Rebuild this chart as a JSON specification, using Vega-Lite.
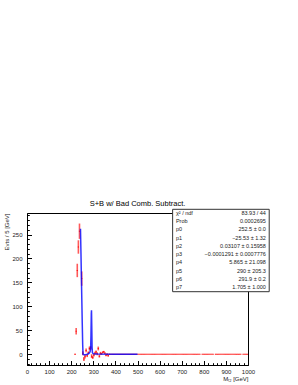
{
  "$schema": "https://vega.github.io/schema/vega-lite/v6.json",
  "autosize": "none",
  "width": 221,
  "height": 152,
  "padding": {"left": 27, "top": 213, "right": 50, "bottom": 20},
  "background": "white",
  "config": {
    "font": "Liberation Sans",
    "view": {"stroke": "black", "strokeWidth": 1},
    "axis": {"grid": false, "domainColor": "black", "tickColor": "black", "labelColor": "#222", "labelFontSize": 6, "titleFontSize": 6, "titleFontWeight": "normal", "titleColor": "#222", "labelOverlap": false, "labelFlush": false, "labelBound": false}
  },
  "title": {"text": "S+B w/ Bad Comb. Subtract.", "fontSize": 7.5, "fontWeight": "normal", "anchor": "middle", "offset": 1.5, "color": "black"},
  "datasets": {
    "pts": [
      {"m": 217.5, "v": 0, "lo": -1, "hi": 1},
      {"m": 222.5, "v": 48, "lo": 41, "hi": 55},
      {"m": 227.5, "v": 175, "lo": 161, "hi": 189},
      {"m": 232.5, "v": 224, "lo": 210, "hi": 238},
      {"m": 237.5, "v": 257, "lo": 241, "hi": 273},
      {"m": 247.5, "v": 158, "lo": 143, "hi": 173},
      {"m": 252.5, "v": 2, "lo": -2, "hi": 6},
      {"m": 257.5, "v": -10, "lo": -14, "hi": -6},
      {"m": 262.5, "v": -5, "lo": -9, "hi": -1},
      {"m": 267.5, "v": 8, "lo": 4, "hi": 12},
      {"m": 272.5, "v": -3, "lo": -6, "hi": 0},
      {"m": 277.5, "v": 3, "lo": 0, "hi": 6},
      {"m": 282.5, "v": 12, "lo": 8, "hi": 16},
      {"m": 287.5, "v": 13, "lo": 9, "hi": 17},
      {"m": 292.5, "v": -4, "lo": -8, "hi": 0},
      {"m": 297.5, "v": -7, "lo": -10, "hi": -4},
      {"m": 302.5, "v": -2, "lo": -5, "hi": 1},
      {"m": 307.5, "v": 2, "lo": -1, "hi": 5},
      {"m": 312.5, "v": 5, "lo": 2, "hi": 8},
      {"m": 317.5, "v": 1, "lo": -2, "hi": 4},
      {"m": 322.5, "v": 12, "lo": 8, "hi": 16},
      {"m": 327.5, "v": -4, "lo": -7, "hi": -1},
      {"m": 332.5, "v": 2, "lo": -1, "hi": 5},
      {"m": 337.5, "v": 1, "lo": -1, "hi": 3},
      {"m": 342.5, "v": 4, "lo": 2, "hi": 6},
      {"m": 347.5, "v": 5, "lo": 3, "hi": 7},
      {"m": 352.5, "v": 2, "lo": 0, "hi": 4},
      {"m": 357.5, "v": -2, "lo": -4, "hi": 0},
      {"m": 362.5, "v": 0, "lo": -2, "hi": 2},
      {"m": 367.5, "v": -3, "lo": -5, "hi": -1},
      {"m": 372.5, "v": 0, "lo": -1, "hi": 1},
      {"m": 377.5, "v": 0, "lo": 0, "hi": 0}, {"m": 382.5, "v": 0, "lo": 0, "hi": 0}, {"m": 387.5, "v": 0, "lo": 0, "hi": 0}, {"m": 392.5, "v": 0, "lo": 0, "hi": 0}, {"m": 397.5, "v": 0, "lo": 0, "hi": 0},
      {"m": 402.5, "v": 0, "lo": 0, "hi": 0}, {"m": 407.5, "v": 0, "lo": 0, "hi": 0}, {"m": 412.5, "v": 0, "lo": 0, "hi": 0}, {"m": 417.5, "v": 0, "lo": 0, "hi": 0}, {"m": 422.5, "v": 0, "lo": 0, "hi": 0},
      {"m": 427.5, "v": 0, "lo": 0, "hi": 0}, {"m": 432.5, "v": 0, "lo": 0, "hi": 0}, {"m": 437.5, "v": 0, "lo": 0, "hi": 0}, {"m": 442.5, "v": 0, "lo": 0, "hi": 0}, {"m": 447.5, "v": 0, "lo": 0, "hi": 0},
      {"m": 452.5, "v": 0, "lo": 0, "hi": 0}, {"m": 457.5, "v": 0, "lo": 0, "hi": 0}, {"m": 462.5, "v": 0, "lo": 0, "hi": 0}, {"m": 467.5, "v": 0, "lo": 0, "hi": 0}, {"m": 472.5, "v": 0, "lo": 0, "hi": 0},
      {"m": 477.5, "v": 0, "lo": 0, "hi": 0}, {"m": 482.5, "v": 0, "lo": 0, "hi": 0}, {"m": 487.5, "v": 0, "lo": 0, "hi": 0}, {"m": 492.5, "v": 0, "lo": 0, "hi": 0}, {"m": 497.5, "v": 0, "lo": 0, "hi": 0},
      {"m": 502.5, "v": 0, "lo": 0, "hi": 0}, {"m": 507.5, "v": 0, "lo": 0, "hi": 0}, {"m": 512.5, "v": 0, "lo": 0, "hi": 0}, {"m": 517.5, "v": 0, "lo": 0, "hi": 0}, {"m": 522.5, "v": 0, "lo": 0, "hi": 0},
      {"m": 527.5, "v": 0, "lo": 0, "hi": 0}, {"m": 532.5, "v": 0, "lo": 0, "hi": 0}, {"m": 537.5, "v": 0, "lo": 0, "hi": 0}, {"m": 542.5, "v": 0, "lo": 0, "hi": 0}, {"m": 547.5, "v": 0, "lo": 0, "hi": 0},
      {"m": 552.5, "v": 0, "lo": 0, "hi": 0}, {"m": 557.5, "v": 0, "lo": 0, "hi": 0}, {"m": 562.5, "v": 0, "lo": 0, "hi": 0}, {"m": 567.5, "v": 0, "lo": 0, "hi": 0}, {"m": 572.5, "v": 0, "lo": 0, "hi": 0},
      {"m": 577.5, "v": 0, "lo": 0, "hi": 0}, {"m": 582.5, "v": 0, "lo": 0, "hi": 0}, {"m": 587.5, "v": 0, "lo": 0, "hi": 0}, {"m": 592.5, "v": 0, "lo": 0, "hi": 0}, {"m": 597.5, "v": 0, "lo": 0, "hi": 0},
      {"m": 602.5, "v": 0, "lo": 0, "hi": 0}, {"m": 607.5, "v": 0, "lo": 0, "hi": 0}, {"m": 612.5, "v": 0, "lo": 0, "hi": 0}, {"m": 617.5, "v": 0, "lo": 0, "hi": 0}, {"m": 622.5, "v": 0, "lo": 0, "hi": 0},
      {"m": 627.5, "v": 0, "lo": 0, "hi": 0}, {"m": 632.5, "v": 0, "lo": 0, "hi": 0}, {"m": 637.5, "v": 0, "lo": 0, "hi": 0}, {"m": 642.5, "v": 0, "lo": 0, "hi": 0}, {"m": 647.5, "v": 0, "lo": 0, "hi": 0},
      {"m": 652.5, "v": 0, "lo": 0, "hi": 0}, {"m": 657.5, "v": 0, "lo": 0, "hi": 0}, {"m": 662.5, "v": 0, "lo": 0, "hi": 0}, {"m": 667.5, "v": 0, "lo": 0, "hi": 0}, {"m": 672.5, "v": 0, "lo": 0, "hi": 0},
      {"m": 677.5, "v": 0, "lo": 0, "hi": 0}, {"m": 682.5, "v": 0, "lo": 0, "hi": 0}, {"m": 687.5, "v": 0, "lo": 0, "hi": 0}, {"m": 692.5, "v": 0, "lo": 0, "hi": 0}, {"m": 697.5, "v": 0, "lo": 0, "hi": 0},
      {"m": 702.5, "v": 0, "lo": 0, "hi": 0}, {"m": 707.5, "v": 0, "lo": 0, "hi": 0}, {"m": 712.5, "v": 0, "lo": 0, "hi": 0}, {"m": 717.5, "v": 0, "lo": 0, "hi": 0}, {"m": 722.5, "v": 0, "lo": 0, "hi": 0},
      {"m": 727.5, "v": 0, "lo": 0, "hi": 0}, {"m": 732.5, "v": 0, "lo": 0, "hi": 0}, {"m": 737.5, "v": 0, "lo": 0, "hi": 0}, {"m": 742.5, "v": 0, "lo": 0, "hi": 0}, {"m": 747.5, "v": 0, "lo": 0, "hi": 0},
      {"m": 752.5, "v": 0, "lo": 0, "hi": 0}, {"m": 757.5, "v": 0, "lo": 0, "hi": 0}, {"m": 762.5, "v": 0, "lo": 0, "hi": 0}, {"m": 767.5, "v": 0, "lo": 0, "hi": 0}, {"m": 772.5, "v": 0, "lo": 0, "hi": 0},
      {"m": 777.5, "v": 0, "lo": 0, "hi": 0}, {"m": 782.5, "v": 0, "lo": 0, "hi": 0}, {"m": 792.5, "v": 0, "lo": 0, "hi": 0}, {"m": 797.5, "v": 0, "lo": 0, "hi": 0},
      {"m": 802.5, "v": 0, "lo": 0, "hi": 0}, {"m": 807.5, "v": 0, "lo": 0, "hi": 0}, {"m": 812.5, "v": 0, "lo": 0, "hi": 0}, {"m": 817.5, "v": 0, "lo": 0, "hi": 0}, {"m": 822.5, "v": 0, "lo": 0, "hi": 0},
      {"m": 827.5, "v": 0, "lo": 0, "hi": 0}, {"m": 832.5, "v": 0, "lo": 0, "hi": 0}, {"m": 837.5, "v": 0, "lo": 0, "hi": 0}, {"m": 842.5, "v": 0, "lo": 0, "hi": 0}, {"m": 852.5, "v": 0, "lo": 0, "hi": 0},
      {"m": 857.5, "v": 0, "lo": 0, "hi": 0}, {"m": 862.5, "v": 0, "lo": 0, "hi": 0}, {"m": 867.5, "v": 0, "lo": 0, "hi": 0}, {"m": 872.5, "v": 0, "lo": 0, "hi": 0}, {"m": 877.5, "v": 0, "lo": 0, "hi": 0},
      {"m": 882.5, "v": 0, "lo": 0, "hi": 0}, {"m": 887.5, "v": 0, "lo": 0, "hi": 0}, {"m": 892.5, "v": 0, "lo": 0, "hi": 0}, {"m": 897.5, "v": 0, "lo": 0, "hi": 0},
      {"m": 902.5, "v": 0, "lo": 0, "hi": 0}, {"m": 907.5, "v": 0, "lo": 0, "hi": 0}, {"m": 912.5, "v": 0, "lo": 0, "hi": 0}, {"m": 917.5, "v": 0, "lo": 0, "hi": 0}, {"m": 922.5, "v": 0, "lo": 0, "hi": 0},
      {"m": 927.5, "v": 0, "lo": 0, "hi": 0}, {"m": 932.5, "v": 0, "lo": 0, "hi": 0}, {"m": 937.5, "v": 0, "lo": 0, "hi": 0}, {"m": 942.5, "v": 0, "lo": 0, "hi": 0}, {"m": 947.5, "v": 0, "lo": 0, "hi": 0},
      {"m": 952.5, "v": 0, "lo": 0, "hi": 0}, {"m": 957.5, "v": 0, "lo": 0, "hi": 0}, {"m": 962.5, "v": 0, "lo": 0, "hi": 0}, {"m": 967.5, "v": 0, "lo": 0, "hi": 0}, {"m": 977.5, "v": 0, "lo": 0, "hi": 0},
      {"m": 982.5, "v": 0, "lo": 0, "hi": 0}, {"m": 987.5, "v": 0, "lo": 0, "hi": 0}, {"m": 992.5, "v": 0, "lo": 0, "hi": 0}, {"m": 997.5, "v": 0, "lo": 0, "hi": 0}
    ],
    "fit": [
      {"m": 242, "f": 262}, {"m": 244, "f": 215}, {"m": 246, "f": 165}, {"m": 248, "f": 115}, {"m": 250, "f": 65}, {"m": 252, "f": 20}, {"m": 253.5, "f": 0},
      {"m": 258, "f": -1}, {"m": 265, "f": -1}, {"m": 272, "f": 0}, {"m": 278, "f": 1}, {"m": 283, "f": 3}, {"m": 286, "f": 6}, {"m": 288, "f": 12},
      {"m": 289.5, "f": 40}, {"m": 291, "f": 85}, {"m": 291.9, "f": 92}, {"m": 293, "f": 60}, {"m": 294.5, "f": 15}, {"m": 296, "f": 3},
      {"m": 300, "f": 1}, {"m": 320, "f": 0.5}, {"m": 400, "f": 0}, {"m": 500, "f": 0}
    ],
    "stats": [
      {"i": 0, "k": "χ² / ndf", "s": "83.93 / 44"},
      {"i": 1, "k": "Prob", "s": "0.0002695"},
      {"i": 2, "k": "p0", "s": "252.5 ± 0.0"},
      {"i": 3, "k": "p1", "s": "−25.53 ± 1.32"},
      {"i": 4, "k": "p2", "s": "0.03107 ± 0.15958"},
      {"i": 5, "k": "p3", "s": "−0.0001291 ± 0.0007776"},
      {"i": 6, "k": "p4", "s": "5.865 ± 21.098"},
      {"i": 7, "k": "p5", "s": "290 ± 205.3"},
      {"i": 8, "k": "p6", "s": "291.9 ± 0.2"},
      {"i": 9, "k": "p7", "s": "1.705 ± 1.000"}
    ],
    "box": [{"b": 1}]
  },
  "layer": [
    {
      "layer": [
        {
          "data": {"name": "pts"},
          "mark": {"type": "rule", "color": "#ff0000", "strokeWidth": 1.6, "opacity": 0.65, "clip": true},
          "encoding": {
            "x": {"field": "m", "type": "quantitative", "scale": {"domain": [0, 1000], "nice": false, "zero": false},
              "axis": {"orient": "bottom", "values": [0,100,200,300,400,500,600,700,800,900,1000], "format": "d",
                "tickSize": -4.5, "labelPadding": 7.5, "title": "Mₜ₂ [GeV]", "titleAnchor": "end", "titlePadding": 1}},
            "y": {"field": "lo", "type": "quantitative", "scale": {"domain": [-22.5, 295], "nice": false, "zero": false},
              "axis": {"orient": "left", "values": [0,50,100,150,200,250],
                "tickSize": -4.5, "labelPadding": 9.5, "title": "Evts / 5 [GeV]", "titleAnchor": "end", "titlePadding": 2}},
            "y2": {"field": "hi"}
          }
        },
        {
          "data": {"name": "pts"},
          "mark": {"type": "tick", "orient": "horizontal", "color": "#ff0000", "size": 1.2, "thickness": 1, "opacity": 0.9, "clip": true},
          "encoding": {
            "x": {"field": "m", "type": "quantitative",
              "axis": {"orient": "bottom", "values": [20,40,60,80,120,140,160,180,220,240,260,280,320,340,360,380,420,440,460,480,520,540,560,580,620,640,660,680,720,740,760,780,820,840,860,880,920,940,960,980],
                "tickSize": -2.3, "labels": false, "domain": false, "title": null}},
            "y": {"field": "v", "type": "quantitative",
              "axis": {"orient": "left", "values": [-20,-10,10,20,30,40,60,70,80,90,110,120,130,140,160,170,180,190,210,220,230,240,260,270,280,290],
                "tickSize": -2.3, "labels": false, "domain": false, "title": null}}
          }
        },
        {
          "data": {"name": "fit"},
          "mark": {"type": "line", "color": "#0000ff", "strokeWidth": 1.5, "opacity": 0.8, "clip": true},
          "encoding": {
            "x": {"field": "m", "type": "quantitative", "axis": null},
            "y": {"field": "f", "type": "quantitative", "axis": null}
          }
        }
      ],
      "resolve": {"axis": {"x": "independent", "y": "independent"}}
    },
    {
      "layer": [
        {
          "data": {"name": "box"},
          "mark": {"type": "rect", "fill": "white", "stroke": "#333", "strokeWidth": 1},
          "encoding": {
            "x": {"datum": 659, "type": "quantitative", "axis": null},
            "x2": {"datum": 1096},
            "y": {"datum": -0.424, "type": "quantitative", "scale": {"domain": [0.024, 18.45], "reverse": true, "nice": false, "zero": false}, "axis": null},
            "y2": {"datum": 9.563}
          }
        },
        {
          "data": {"name": "stats"},
          "mark": {"type": "text", "align": "left", "baseline": "middle", "fontSize": 5.5, "color": "#222"},
          "encoding": {
            "x": {"datum": 674, "type": "quantitative", "axis": null},
            "y": {"field": "i", "type": "quantitative", "axis": null},
            "text": {"field": "k"}
          }
        },
        {
          "data": {"name": "stats"},
          "mark": {"type": "text", "align": "right", "baseline": "middle", "fontSize": 5.5, "color": "#222"},
          "encoding": {
            "x": {"datum": 1081, "type": "quantitative", "axis": null},
            "y": {"field": "i", "type": "quantitative", "axis": null},
            "text": {"field": "s"}
          }
        }
      ]
    }
  ],
  "resolve": {"scale": {"y": "independent"}, "axis": {"y": "independent"}}
}
